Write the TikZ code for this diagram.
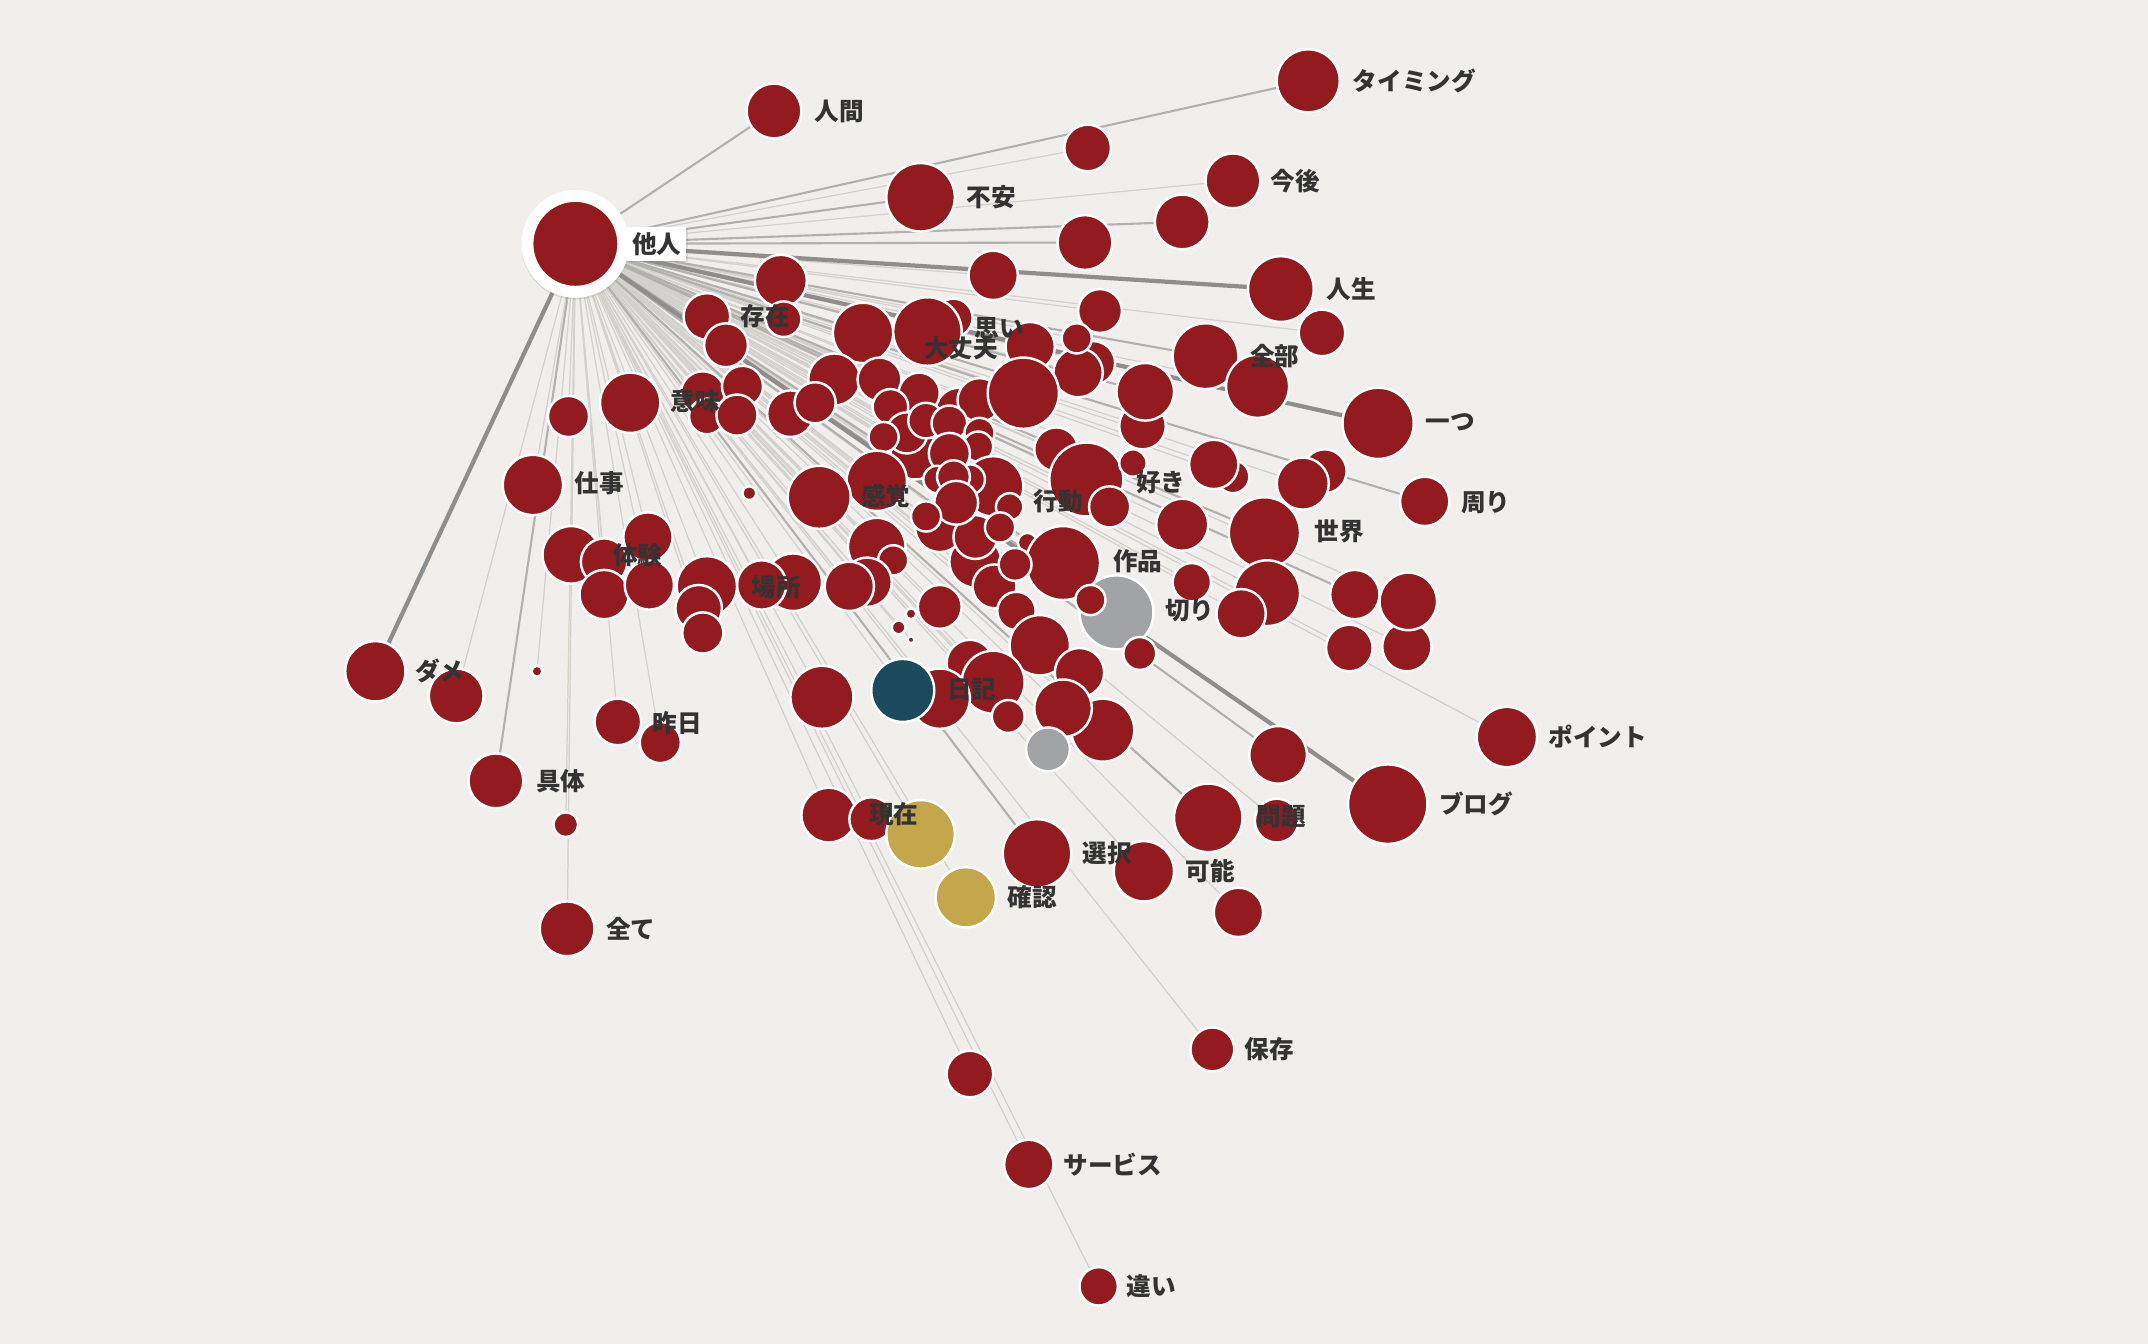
\documentclass[tikz,border=0pt]{standalone}
\usepackage{fontspec}
\setmainfont{Noto Sans CJK JP}
\usetikzlibrary{backgrounds,shadows}

\definecolor{bg}{HTML}{F0EFEB}
\definecolor{bubred}{HTML}{931B1F}
\definecolor{bubteal}{HTML}{1B4A5E}
\definecolor{bubgold}{HTML}{C4A74B}
\definecolor{bubgray}{HTML}{A2A3A5}
\definecolor{txt}{HTML}{333333}
\definecolor{edgelight}{HTML}{D2D1CC}
\definecolor{edgemid}{HTML}{B2B1AD}
\definecolor{edgedark}{HTML}{8E8E8C}

\begin{document}
\begin{tikzpicture}[x=0.0137cm, y=-0.0137cm,
  bub/.style={circle, fill=bubred, draw=white, line width=0.7pt, inner sep=0pt, minimum size=#1*0.274mm},
  word/.style={anchor=west, inner sep=0pt, text=txt, font=\fontsize{7}{7}\selectfont\bfseries},
  lightedge/.style={draw=edgelight, line width=0.35pt},
  midedge/.style={draw=edgemid, line width=0.6pt},
  darkedge/.style={draw=edgedark, line width=1.2pt}]
\useasboundingbox (0,0) rectangle (1568,981);

% outer ring of words
\node[bub=20] (ningen) at (565,81) {};
\node[bub=23] (timing) at (955,59) {};
\node[bub=17] (n01) at (794,108) {};
\node[bub=25] (fuan) at (672,144) {};
\node[bub=20] (kongo) at (900,132) {};
\node[bub=20] (n02) at (863,162) {};
\node[bub=20] (n03) at (792,177) {};
\node[bub=18] (n04) at (725,201) {};
\node[bub=24] (jinsei) at (935,211) {};
\node[bub=17] (n05) at (965,243) {};
\node[bub=16] (n06) at (803,227) {};
\node[bub=19] (n07) at (570,205) {};
\node[bub=17] (sonzai) at (516,231) {};
\node[bub=16] (n08) at (530,252) {};
\node[bub=13] (n09) at (572,233) {};
\node[bub=22] (n10) at (630,243) {};
\node[bub=14] (omoi) at (696,232) {};
\node[bub=25] (daijoubu) at (677,242) {};
\node[bub=18] (n11) at (752,253) {};
\node[bub=16] (n12) at (798,265) {};
\node[bub=18] (n13) at (787,272) {};
\node[bub=11] (n14) at (786,247) {};
\node[bub=24] (zenbu) at (880,260) {};
\node[bub=23] (n15) at (918,282) {};
\node[bub=26] (hitotsu) at (1006,309) {};
\node[bub=17] (n16) at (834,311) {};
\node[bub=21] (n17) at (836,286) {};

% dense middle
\node[bub=19] (n18) at (609,277) {};
\node[bub=17] (n19) at (577,302) {};
\node[bub=15] (n20) at (595,294) {};
\node[bub=18] (n106) at (668,332) {};
\node[bub=17] (n107) at (700,300) {};
\node[bub=16] (n22) at (642,277) {};
\node[bub=15] (n23) at (671,287) {};
\node[bub=13] (n24) at (650,297) {};
\node[bub=16] (n25) at (715,292) {};
\node[bub=15] (n26) at (662,316) {};
\node[bub=11] (n27) at (645,319) {};
\node[bub=13] (n28) at (676,307) {};
\node[bub=13] (n29) at (693,309) {};
\node[bub=11] (n30) at (715,316) {};
\node[bub=11] (n31) at (714,326) {};
\node[bub=15] (n32) at (693,331) {};
\node[bub=26] (n21) at (747,287) {};
\node[bub=19] (n108) at (712,410) {};
\node[bub=16] (n109) at (726,428) {};
\node[bub=18] (n45) at (686,385) {};
\node[bub=16] (n46) at (712,392) {};
\node[bub=16] (n33) at (771,328) {};
\node[bub=22] (n34) at (725,355) {};
\node[bub=27] (koudou) at (793,350) {};
\node[bub=10] (n35) at (827,338) {};
\node[bub=15] (n36) at (810,370) {};
\node[bub=10] (n37) at (684,350) {};
\node[bub=11] (n38) at (708,350) {};
\node[bub=12] (n39) at (696,348) {};
\node[bub=16] (n40) at (698,367) {};
\node[bub=11] (n41) at (676,377) {};
\node[bub=10] (n42) at (737,370) {};
\node[bub=11] (n43) at (730,385) {};
\node[bub=7] (n44) at (750,396) {};
\node[bub=22] (kankaku) at (640,351) {};
\node[bub=23] (n47) at (598,363) {};
\node[bub=21] (n48) at (640,399) {};
\node[bub=11] (n49) at (652,409) {};
\node[bub=18] (n50) at (633,425) {};
\node[bub=18] (n51) at (620,428) {};
\node[bub=21] (n52) at (579,425) {};
\node[bub=18] (basho) at (556,427) {};
\node[bub=22] (n53) at (516,428) {};
\node[bub=17] (n54) at (510,444) {};
\node[bub=15] (n55) at (513,462) {};

% left side
\node[bub=21] (taiken) at (417,405) {};
\node[bub=18] (n56) at (473,392) {};
\node[bub=17] (n57) at (441,410) {};
\node[bub=18] (n58) at (441,434) {};
\node[bub=18] (n59) at (474,427) {};
\node[bub=22] (imi) at (460,294) {};
\node[bub=15] (n60) at (415,304) {};
\node[bub=16] (n61) at (513,287) {};
\node[bub=15] (n62) at (542,282) {};
\node[bub=13] (n63) at (516,304) {};
\node[bub=15] (n64) at (538,303) {};
\node[bub=22] (shigoto) at (389,354) {};
\node[bub=5] (n65) at (547,360) {};

% right side
\node[bub=12] (n66) at (900,348) {};
\node[bub=18] (n67) at (886,339) {};
\node[bub=16] (n68) at (967,344) {};
\node[bub=19] (n69) at (951,353) {};
\node[bub=18] (mawari) at (1040,366) {};
\node[bub=26] (sekai) at (923,389) {};
\node[bub=19] (n70) at (863,383) {};
\node[bub=14] (n71) at (870,425) {};
\node[bub=24] (n72) at (925,433) {};
\node[bub=18] (n73) at (906,448) {};
\node[bub=17] (n74) at (985,473) {};
\node[bub=18] (n75) at (1027,472) {};
\node[bub=18] (n76) at (989,434) {};
\node[bub=21] (n77) at (1028,439) {};

% lower middle
\node[bub=27] (sakuhin) at (776,411) {};
\node[bub=12] (n78) at (741,412) {};
\node[bub=14] (n79) at (742,446) {};
\node[bub=27, fill=bubgray] (kiri) at (815,447) {};
\node[bub=11] (n80) at (796,438) {};
\node[bub=12] (n81) at (832,477) {};
\node[bub=22] (n82) at (759,471) {};
\node[bub=18] (n83) at (788,491) {};
\node[bub=23] (n84) at (805,533) {};
\node[bub=21] (n85) at (776,517) {};
\node[bub=16, fill=bubgray] (n86) at (765,547) {};
\node[bub=17] (n87) at (708,484) {};
\node[bub=23] (n88) at (725,498) {};
\node[bub=12] (n89) at (736,523) {};
\node[bub=22] (n90) at (686,510) {};
\node[bub=23, fill=bubteal] (nikki) at (659,504) {};
\node[bub=16] (n91) at (686,443) {};
\node[bub=4] (n92) at (665,448) {};
\node[bub=5] (n93) at (656,458) {};
\node[bub=2.5] (n94) at (665,467) {};
\node[bub=23] (n95) at (600,509) {};

% bottom left
\node[bub=22] (dame) at (274,490) {};
\node[bub=20] (n96) at (333,508) {};
\node[bub=4] (n97) at (392,490) {};
\node[bub=17] (kinou) at (451,527) {};
\node[bub=15] (n98) at (482,542) {};
\node[bub=20] (gutai) at (362,570) {};
\node[bub=9] (n99) at (413,602) {};
\node[bub=20] (subete) at (414,678) {};

% bottom
\node[bub=20] (genzai) at (605,595) {};
\node[bub=16] (n100) at (636,598) {};
\node[bub=25, fill=bubgold] (n101) at (672,609) {};
\node[bub=22, fill=bubgold] (kakunin) at (705,655) {};
\node[bub=25] (sentaku) at (757,623) {};
\node[bub=22] (kanou) at (835,636) {};
\node[bub=18] (n102) at (904,666) {};
\node[bub=25] (mondai) at (882,597) {};
\node[bub=16] (n103) at (932,599) {};
\node[bub=21] (n104) at (933,551) {};
\node[bub=29] (burogu) at (1013,587) {};
\node[bub=22] (pointo) at (1100,538) {};
\node[bub=16] (hozon) at (885,766) {};
\node[bub=17] (n105) at (708,784) {};
\node[bub=18] (saabisu) at (751,850) {};
\node[bub=14] (chigai) at (802,939) {};

% hub
\node[bub=35, line width=3.4pt, drop shadow={shadow scale=1.12, shadow xshift=0pt, shadow yshift=-0.5pt, opacity=0.22}] (tanin) at (420,178) {};
\node[word, fill=white, inner sep=1.5pt, drop shadow={shadow xshift=0.3pt, shadow yshift=-0.4pt, opacity=0.2}] (l-tanin) at (457,178) {他人};

% words
\node[word] (l-ningen) at (594,81) {人間};
\node[word] (l-timing) at (987,59) {タイミング};
\node[word] (l-fuan) at (705,144) {不安};
\node[word] (l-kongo) at (927,132) {今後};
\node[word] (l-jinsei) at (968,211) {人生};
\node[word] (l-zenbu) at (912,260) {全部};
\node[word] (l-hitotsu) at (1040,308) {一つ};
\node[word] (l-mawari) at (1066,367) {周り};
\node[word] (l-sonzai) at (540,231) {存在};
\node[word] (l-omoi) at (711,240) {思い};
\node[word] (l-daijoubu) at (674,254) {大丈夫};
\node[word] (l-imi) at (489,293) {意味};
\node[word] (l-shigoto) at (419,353) {仕事};
\node[word] (l-kankaku) at (628,362) {感覚};
\node[word] (l-koudou) at (754,366) {行動};
\node[word] (l-suki) at (829,352) {好き};
\node[word] (l-sekai) at (959,388) {世界};
\node[word] (l-sakuhin) at (812,410) {作品};
\node[word] (l-kiri) at (850,446) {切り};
\node[word] (l-taiken) at (447,405) {体験};
\node[word] (l-basho) at (548,429) {場所};
\node[word] (l-dame) at (303,490) {ダメ};
\node[word] (l-kinou) at (476,528) {昨日};
\node[word] (l-gutai) at (391,570) {具体};
\node[word] (l-subete) at (442,678) {全て};
\node[word] (l-nikki) at (691,503) {日記};
\node[word] (l-genzai) at (634,594) {現在};
\node[word] (l-kakunin) at (735,655) {確認};
\node[word] (l-sentaku) at (790,623) {選択};
\node[word] (l-kanou) at (865,636) {可能};
\node[word] (l-mondai) at (917,596) {問題};
\node[word] (l-burogu) at (1050,587) {ブログ};
\node[word] (l-pointo) at (1130,538) {ポイント};
\node[word] (l-hozon) at (908,766) {保存};
\node[word] (l-saabisu) at (776,850) {サービス};
\node[word] (l-chigai) at (822,939) {違い};

\begin{scope}[on background layer]
\fill[bg] (0,0) rectangle (1568,981);
% links from the hub
\foreach \w in {kongo,n01,n04,n05,n06,n07,sonzai,n08,n09,n10,omoi,daijoubu,n11,n12,n13,n14,n15,n16,
  n18,n19,n20,n22,n23,n24,n25,n26,n27,n28,n29,n30,n31,n32,n45,n46,n33,n34,n35,n36,n37,n38,n39,n40,
  n41,n42,n43,n44,kankaku,n47,n48,n49,n50,n51,n52,basho,n53,n54,n55,taiken,n56,n57,n58,n59,imi,
  n60,n61,n62,n63,n64,shigoto,n65,n66,n67,n68,n69,n70,n71,n72,n73,n74,n75,n77,n78,n79,n80,n81,
  n82,n83,n84,n85,n86,n87,n88,n89,n90,nikki,n91,n92,n93,n94,n95,n96,n97,kinou,n98,n99,subete,
  genzai,n100,n101,kakunin,kanou,n102,n103,pointo,hozon,n105,saabisu,chigai,n106,n107,n108,n109}
  \draw[lightedge] (tanin) -- (\w);
\foreach \w in {ningen,timing,fuan,n02,n03,zenbu,n17,n21,koudou,sakuhin,kiri,sekai,mawari,n76,
  gutai,sentaku,mondai,n104}
  \draw[midedge] (tanin) -- (\w);
\foreach \w in {dame,jinsei,hitotsu,burogu}
  \draw[darkedge] (tanin) -- (\w);
\end{scope}
\end{tikzpicture}
\end{document}
